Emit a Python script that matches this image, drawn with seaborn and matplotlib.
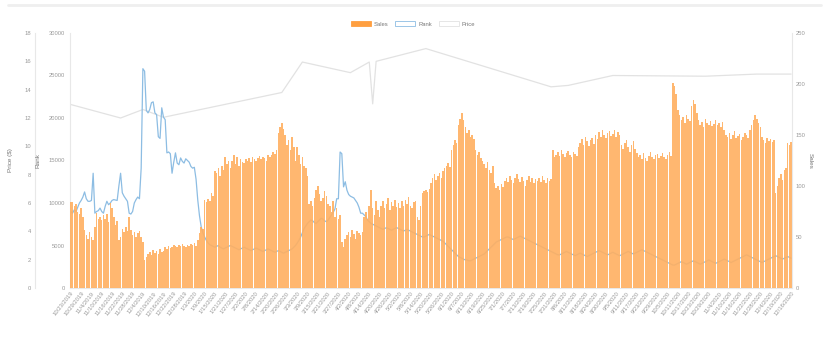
import numpy as np
import pandas as pd
import matplotlib
matplotlib.use("Agg")
import matplotlib.pyplot as plt
import seaborn as sns
from matplotlib.patches import Patch
from matplotlib.lines import Line2D

# ---------------- data ----------------
start_date = "2019-10-23"
label_step = 6

sales = [
    84, 84, 80,
    82, 75, 73, 78, 70,
    57, 52, 48, 55, 50, 47,
    60, 74, 68,
    70, 67, 72, 68, 73, 65,
    83, 78, 70,
    62, 66,
    47, 50,
    58, 55, 60, 56, 70,
    57, 52, 55, 50, 54, 56,
    50, 45,
    27, 30,
    33, 35, 32, 37, 34, 36, 33, 38, 35, 36,
    40, 38, 41, 39, 40, 42,
    41, 40, 42, 41, 43, 41, 40, 42, 41, 43, 42, 44, 41,
    47, 54, 60, 58,
    86, 84, 87, 85,
    93, 90,
    115, 113, 118, 110,
    120, 116, 128, 122, 125, 118,
    125, 130, 122, 128, 120, 126, 124,
    123, 126, 125, 127, 124, 128, 126, 125, 127, 129, 126, 128, 127, 125, 130, 128,
    130, 133, 131, 135,
    152, 158, 162, 156,
    150, 140, 145, 135, 148, 138,
    125, 138, 130, 122, 128,
    120, 118, 110, 82,
    85, 80, 88, 96, 100, 92, 85, 88, 95, 90, 82, 80,
    75, 85, 70, 78, 68, 72,
    45, 40, 48,
    52, 55, 50, 57, 53, 48, 56, 54, 52, 55,
    70, 75, 68, 80, 96, 78, 72, 85, 76, 70,
    80, 85, 78, 82, 88, 76, 84, 80, 86, 79, 83, 78, 85, 80,
    86, 82, 89, 80, 78, 84, 85,
    70, 67, 80,
    93, 95, 96, 94, 97,
    103, 108, 112, 106, 110, 113, 108, 115,
    118, 120, 123, 119,
    135, 140, 145, 142,
    160, 166, 172, 165,
    158, 152, 155, 148, 150, 146,
    135, 130, 133, 127, 125,
    122, 118, 124, 116, 113, 120,
    103, 98, 100, 96, 102, 99,
    105, 108, 104, 110, 106, 103, 108, 112, 107, 104, 109, 105, 100, 106, 110, 104, 108, 103, 107,
    105, 108, 104, 110, 106, 103, 108, 105, 107, 135,
    128, 130, 133, 129, 135, 131, 128, 132, 134, 130, 128, 133, 131, 129,
    138, 142, 146, 140, 148, 144, 139, 145, 147, 141,
    150, 146, 153, 148, 155, 150, 147, 152, 154, 149, 151, 155, 148, 153, 150,
    140, 136, 142, 145, 138, 133, 140, 144, 136, 132,
    128, 130, 126, 132, 127, 125, 129, 133, 128, 126, 130, 131, 127, 129, 132, 128, 126, 130, 133, 129,
    201, 198, 190,
    175, 170, 165, 168, 162, 170, 166, 164,
    178, 184, 180, 172,
    165, 160, 163, 158, 166, 162, 160, 164, 159, 161, 165, 160, 162, 158, 163,
    155, 150, 148, 152, 146, 150, 154, 147, 149, 151, 145, 148, 152, 150, 147, 155,
    160, 165, 170, 166, 162, 158,
    148, 145, 142, 147, 144, 146, 143, 145,
    93,
    100, 108, 112, 106, 116, 118,
    142, 140, 143,
]

rank = [
    9000, 8800, 9200, 9000, 9500, 10000,
    10300, 10700, 11300,
    10500, 10200, 10200, 10300,
    13500,
    8800, 9000, 9100, 9400, 9000,
    8800, 9600, 10200, 9800,
    10000, 10300, 10400, 10350, 10300,
    12000, 13500,
    11200, 10800, 10500, 10200,
    8800, 8700, 9000,
    10000, 10400, 10700, 10500,
    14100, 25800, 25500,
    20900, 20600, 21000,
    21800, 21900,
    20600, 20400,
    17800, 17600,
    21200,
    20100, 19800,
    15900, 16000, 15800,
    13500, 14800, 15900,
    14700, 14500,
    15300, 14900, 14700, 15200, 15000, 14800,
    14300, 14100, 14200,
    12800, 10350, 8500, 7200,
    6500, 6000, 5600, 5300, 5100, 5000, 4900, 4800, 4900, 5000,
    4800, 4700, 4600, 4700, 4800, 4900, 5000, 4900, 4800, 4700,
    4600, 4500, 4600, 4700, 4800, 4700, 4600, 4500, 4400, 4500,
    4600, 4700, 4600, 4500, 4400, 4300, 4400, 4500, 4600, 4500,
    4400, 4300, 4200, 4300, 4400, 4300, 4200, 4100, 4200, 4300,
    4400, 4500, 4600, 4800, 5000, 5300, 5600, 6000, 6500,
    7000, 7300, 7600, 7800, 8000, 7900, 7700, 7600, 7800, 8000,
    8200, 8100, 7900, 7800, 8000, 8300, 8600, 8900, 9300, 10500,
    10500, 16000, 15800, 11900, 12500, 11500,
    11000, 10800, 10700, 10600, 10300, 10000, 9500, 8800, 8800,
    8600, 8400, 8000, 7800, 7600, 7500, 7400, 7300, 7200, 7100,
    7000, 6900, 7000, 7100, 7000, 6900, 6800, 6900, 7000, 7100,
    7000, 6900, 6800, 6700, 6800, 6900, 6800, 6700, 6600, 6500,
    6400, 6300, 6200, 6100, 6000,
    6000, 6100, 6200, 6300, 6200, 6100, 6000, 5900, 5800, 5700,
    5600, 5500, 5300, 5100, 4900, 4700, 4500, 4300, 4100, 3900,
    3700, 3600, 3500,
    3400, 3300, 3300, 3200, 3200, 3300, 3400, 3500, 3600, 3700,
    3800, 3900, 4000, 4200, 4400, 4600, 4800, 5000, 5200, 5400,
    5500, 5600, 5700,
    5800, 5900, 6000, 6000, 5900, 5800, 5700, 5800, 5900, 6000,
    6100, 6000, 5900, 5800, 5700, 5600, 5500, 5400, 5300, 5200,
    5100, 5000, 4900, 4800, 4700, 4600, 4500, 4400, 4300,
    4200, 4100, 4000, 3900, 3900, 4000, 4100, 4200, 4300, 4200,
    4100, 4000, 3900, 3800, 3900, 4000, 4100, 4000, 3900, 3800,
    3700, 3800, 3900, 4000, 4100, 4200, 4300, 4400, 4300, 4200,
    4100, 4000, 3900, 4000, 4100, 4200, 4100, 4000, 3900, 3800,
    3900, 4000, 4100, 4200, 4300, 4200, 4100, 4000, 4100, 4200,
    4300, 4400, 4500, 4400, 4300, 4200, 4100, 4000, 3900, 3800,
    3700, 3600, 3500, 3400, 3300,
    3200, 3100, 3000, 2900, 2800, 2700, 2700, 2800, 2900, 3000,
    3100, 3000, 2900, 2800, 2900, 3000, 3100, 3200, 3100, 3000,
    2900, 2800, 2900, 3000, 3100, 3200, 3300, 3200, 3100, 3000,
    2900, 3000, 3100, 3200, 3300, 3400, 3300, 3200, 3100, 3000,
    3100, 3200, 3300, 3400, 3500, 3600, 3700, 3800, 3900, 3800,
    3700, 3600, 3500, 3400, 3300, 3200, 3100, 3000, 3100, 3200,
    3300, 3400, 3500, 3600, 3700, 3800, 3700, 3600, 3500, 3400,
    3500, 3600, 3700, 3600, 3500,
]

# price is recorded only when it changes (day index -> price)
price_days = [0, 29, 42, 54, 123, 135, 163, 174, 176, 178, 207, 280, 290, 316, 370, 400, 420]
price_vals = [12.95, 12.0, 12.6, 12.05, 13.8, 15.95, 15.2, 15.95, 13.0, 16.0, 16.9,
              14.2, 14.3, 15.0, 14.95, 15.1, 15.1]

price_ticks = list(range(0, 19, 2))
rank_ticks = list(range(0, 30001, 5000))
sales_ticks = list(range(0, 251, 50))

# ---------------- build ----------------
N = len(sales)
assert len(rank) == N, (len(rank), N)
dates = pd.date_range(start_date, periods=N, freq="D")
date_labels = [f"{d.month}/{d.day}/{d.year}" for d in dates]
df = pd.DataFrame({"day": np.arange(N), "sales": sales, "rank": rank})
pdf = pd.DataFrame({"day": price_days, "price": price_vals})

sns.set_theme(style="white")
plt.rcParams["font.family"] = ["Liberation Sans", "DejaVu Sans"]

W, H = 829, 350
fig = plt.figure(figsize=(W / 100, H / 100), dpi=100)
L, R, T, B = 70, 792, 33, 288
ax = fig.add_axes([L / W, 1 - B / H, (R - L) / W, (B - T) / H])
ax_rank = ax.twinx()
ax_sales = ax.twinx()
ax.set_zorder(1)
ax_rank.set_zorder(2)
ax_sales.set_zorder(3)
for a in (ax_rank, ax_sales):
    a.patch.set_visible(False)

TXT = "#9a9a9a"
GRID = "#e8e8e8"
ORANGE = "#ff9f40"
BAR = "#ffaf60"
BLUE = "#8dbde3"
GRAY = "#e2e2e2"

sns.lineplot(data=pdf, x="day", y="price", ax=ax, color=GRAY, linewidth=0.9, estimator=None)
sns.lineplot(data=df, x="day", y="rank", ax=ax_rank, color=BLUE, linewidth=0.9, estimator=None)
sns.barplot(data=df, x="day", y="sales", ax=ax_sales, color=BAR, saturation=1,
            width=0.9, alpha=0.9, native_scale=True, linewidth=0)

ax.set_xlim(-0.5, N - 0.5)
ax.set_ylim(0, 18)
ax_rank.set_ylim(0, 30000)
ax_sales.set_ylim(0, 250)
ax.set_yticks(price_ticks)
ax_rank.set_yticks(rank_ticks)
ax_sales.set_yticks(sales_ticks)

# left axes layout
ax.spines["left"].set_position(("outward", 35 * 0.72))
ax_rank.yaxis.tick_left()
ax_rank.yaxis.set_label_position("left")
for a in (ax, ax_rank, ax_sales):
    for s in a.spines.values():
        s.set_visible(False)
ax.spines["left"].set_visible(True)
ax.spines["left"].set_color(GRID)
ax.spines["bottom"].set_visible(True)
ax.spines["bottom"].set_color(GRID)
ax_rank.spines["left"].set_visible(True)
ax_rank.spines["left"].set_color(GRID)
ax_sales.spines["right"].set_visible(True)
ax_sales.spines["right"].set_color(GRID)
for a in (ax, ax_rank, ax_sales):
    a.spines["left"].set_linewidth(0.8)
    a.spines["right"].set_linewidth(0.8)
    a.spines["bottom"].set_linewidth(0.8)
    a.grid(False)

ax.tick_params(axis="y", length=0, labelsize=4.2, labelcolor=TXT, pad=3)
ax_rank.tick_params(axis="y", length=0, labelsize=4.2, labelcolor=TXT, pad=3.5)
ax_sales.tick_params(axis="y", length=0, labelsize=4.2, labelcolor=TXT, pad=2.5)

ax.set_ylabel("Price ($)", fontsize=4.6, color="#777777")
ax.yaxis.set_label_coords((13 - L) / (R - L), 0.5)
ax_rank.set_ylabel("Rank", fontsize=4.6, color="#777777")
ax_rank.yaxis.set_label_coords((40 - L) / (R - L), 0.5)
ax_sales.set_ylabel("Sales", fontsize=4.6, color="#777777", rotation=270, va="center")
ax_sales.yaxis.set_label_coords((810 - L) / (R - L), 0.5)

ticks = list(range(0, N, label_step))
ax.set_xticks(ticks)
ax.set_xticklabels([date_labels[i] for i in ticks], rotation=52, ha="right",
                   rotation_mode="anchor", fontsize=4.2, color=TXT)
ax.tick_params(axis="x", length=0, pad=2)
ax.set_xlabel("")
ax_sales.set_xlabel("")
ax_rank.set_xlabel("")

handles = [
    Patch(facecolor=ORANGE, edgecolor=ORANGE, linewidth=0.6),
    Patch(facecolor="white", edgecolor=BLUE, linewidth=0.6),
    Patch(facecolor="white", edgecolor=GRAY, linewidth=0.6),
]
fig.legend(handles, ["Sales", "Rank", "Price"], loc="center",
           bbox_to_anchor=(413 / W, 1 - 24 / H), ncol=3, frameon=False,
           fontsize=4.2, handlelength=3.4, handleheight=0.7,
           handletextpad=0.5, columnspacing=1.2, labelcolor="#777777")

fig.add_artist(Line2D([8 / W, 821 / W], [1 - 4.5 / H] * 2, color="#efefef", linewidth=2.0))

fig.savefig("out.png", dpi=100, facecolor="white")
